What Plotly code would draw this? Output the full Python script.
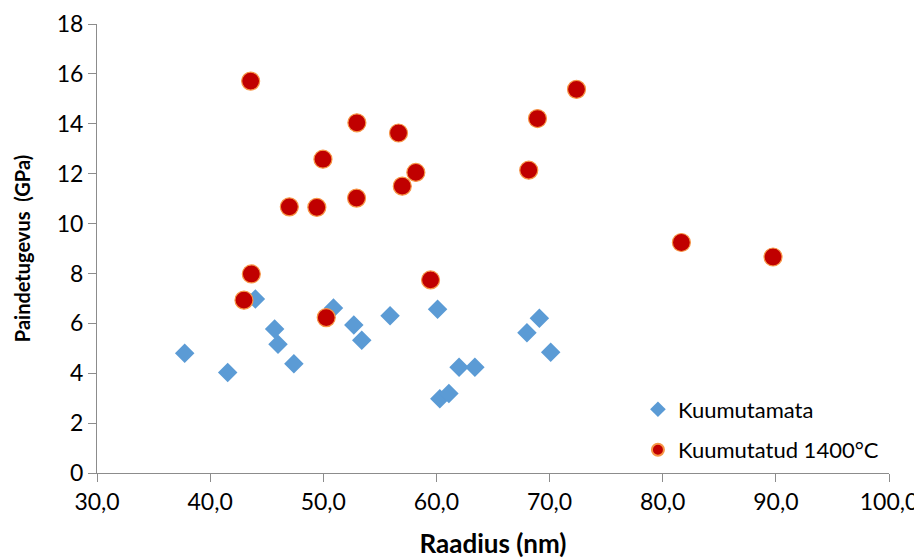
import plotly.graph_objects as go

# Kuumutamata (unheated)
x_unheated = [37.75, 41.55, 44.0, 45.7, 46.0, 47.4, 50.9, 52.7, 53.4, 55.9, 60.1, 60.3, 61.1, 62.0, 63.4, 68.0, 69.1, 70.1]
y_unheated = [4.80, 4.03, 6.98, 5.77, 5.16, 4.38, 6.61, 5.93, 5.32, 6.30, 6.56, 2.98, 3.19, 4.24, 4.24, 5.62, 6.20, 4.84]

# Kuumutatud 1400°C (heated)
x_heated = [43.58, 47.0, 43.64, 42.99, 52.97, 56.65, 49.97, 58.18, 56.98, 52.94, 49.43, 72.38, 68.93, 68.16, 59.48, 50.26, 81.65, 89.75]
y_heated = [15.71, 10.67, 7.98, 6.93, 14.04, 13.63, 12.58, 12.05, 11.50, 11.02, 10.65, 15.38, 14.21, 12.14, 7.74, 6.23, 9.24, 8.66]

x_ticks = [30, 40, 50, 60, 70, 80, 90, 100]
x_tick_labels = ["30,0", "40,0", "50,0", "60,0", "70,0", "80,0", "90,0", "100,0"]
y_ticks = [0, 2, 4, 6, 8, 10, 12, 14, 16, 18]

FONT = "Lato, 'Open Sans', sans-serif"

fig = go.Figure()
fig.add_trace(go.Scatter(
    x=x_unheated, y=y_unheated, mode="markers", name="Kuumutamata", legendgroup="a",
    marker=dict(symbol="diamond", size=15, color="#5B9BD5", line=dict(width=0)),
))
fig.add_trace(go.Scatter(
    x=x_heated, y=y_heated, mode="markers", name="Kuumutatud 1400°C", legendgroup="b",
    marker=dict(symbol="circle", size=18, color="#C00000", line=dict(width=1.2, color="#F79646")),
))

axis_common = dict(
    showgrid=False, zeroline=False, showline=True, linecolor="#8C8C8C", linewidth=1,
    ticks="outside", ticklen=8, tickcolor="#8C8C8C", tickwidth=1, automargin=False,
    tickfont=dict(family=FONT, size=23, color="#000000"),
)

# the page body adds an 8px offset, so the figure is sized/margined to compensate
fig.update_layout(
    width=914, height=551,
    margin=dict(l=89, r=33, t=16, b=86),
    paper_bgcolor="white", plot_bgcolor="white",
    xaxis=dict(range=[30, 100], tickvals=x_ticks, ticktext=x_tick_labels,
               title=dict(text="<b>Raadius (nm)</b>", font=dict(family=FONT, size=26, color="#000"), standoff=22),
               **axis_common),
    yaxis=dict(range=[0, 18], tickvals=y_ticks,
               title=dict(text="<b>Paindetugevus  (GPa)</b>", font=dict(family=FONT, size=20, color="#000"), standoff=20),
               **axis_common),
    legend=dict(x=0.683, y=0.096, xanchor="left", yanchor="middle",
                font=dict(family=FONT, size=22, color="#000"), bgcolor="rgba(0,0,0,0)",
                itemsizing="constant", itemwidth=30, tracegroupgap=9, traceorder="grouped"),
    showlegend=True,
)

fig.write_html("out.html")
